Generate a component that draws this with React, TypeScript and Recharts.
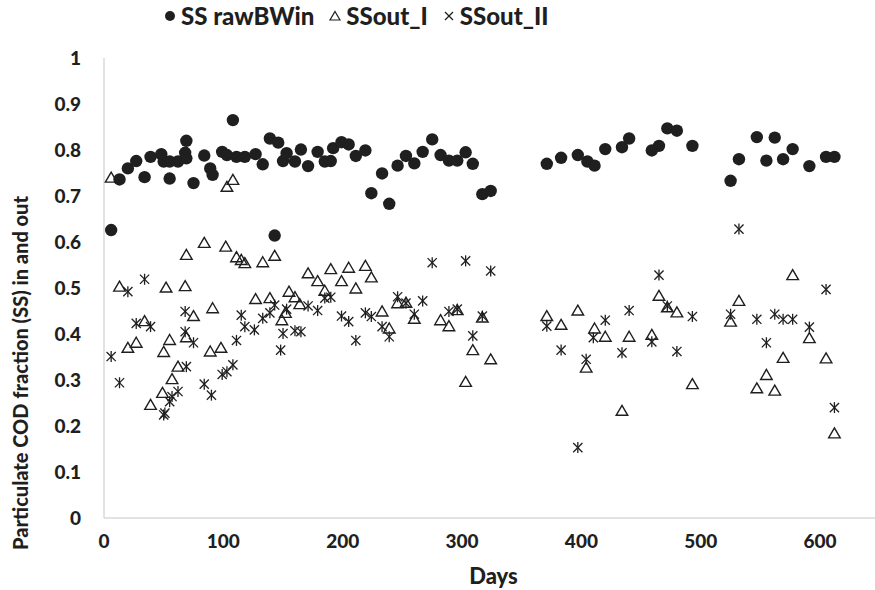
import { Legend, Scatter, ScatterChart, XAxis, YAxis } from "recharts";

const xTicks = [0, 100, 200, 300, 400, 500, 600];
const yTicks = [0, 0.1, 0.2, 0.3, 0.4, 0.5, 0.6, 0.7, 0.8, 0.9, 1];

// [day, fraction]
const ssRawBWin: [number, number][] = [
  [6, 0.626], [13, 0.736], [20, 0.76], [27, 0.776], [34, 0.741], [39, 0.785], [48, 0.791], [50, 0.775],
  [55, 0.775], [55, 0.738], [62, 0.775], [69, 0.82], [68, 0.794], [69, 0.782], [75, 0.728], [84, 0.788],
  [89, 0.76], [91, 0.746], [99, 0.796], [103, 0.789], [108, 0.865], [111, 0.785], [118, 0.785], [127, 0.791],
  [133, 0.769], [139, 0.825], [143, 0.614], [146, 0.816], [150, 0.776], [153, 0.793], [160, 0.775], [165, 0.801],
  [171, 0.765], [179, 0.796], [185, 0.775], [190, 0.776], [192, 0.804], [199, 0.817], [205, 0.812], [211, 0.787],
  [219, 0.799], [224, 0.706], [233, 0.749], [239, 0.683], [246, 0.766], [253, 0.787], [260, 0.771], [267, 0.796],
  [275, 0.823], [282, 0.789], [289, 0.777], [296, 0.777], [303, 0.795], [309, 0.77], [317, 0.704], [324, 0.711],
  [371, 0.77], [383, 0.783], [397, 0.789], [405, 0.775], [411, 0.766], [420, 0.802], [434, 0.806], [440, 0.825],
  [459, 0.799], [465, 0.809], [472, 0.847], [480, 0.842], [493, 0.809], [525, 0.733], [532, 0.78], [547, 0.828],
  [555, 0.777], [562, 0.827], [569, 0.78], [577, 0.802], [591, 0.765], [605, 0.785], [612, 0.785],
];

const ssOutI: [number, number][] = [
  [6, 0.74], [13, 0.503], [20, 0.37], [27, 0.381], [34, 0.428], [39, 0.246], [49, 0.272], [50, 0.361],
  [52, 0.501], [55, 0.387], [57, 0.302], [62, 0.329], [69, 0.572], [68, 0.504], [69, 0.393], [75, 0.439],
  [84, 0.598], [89, 0.362], [91, 0.456], [98, 0.37], [102, 0.59], [103, 0.72], [108, 0.735], [111, 0.567],
  [115, 0.561], [118, 0.554], [127, 0.476], [133, 0.556], [139, 0.478], [143, 0.57], [149, 0.43], [152, 0.446],
  [155, 0.492], [160, 0.48], [164, 0.465], [171, 0.532], [179, 0.515], [185, 0.494], [190, 0.541], [199, 0.515],
  [205, 0.544], [211, 0.499], [219, 0.548], [224, 0.523], [233, 0.449], [239, 0.412], [246, 0.467], [253, 0.468],
  [260, 0.433], [282, 0.43], [289, 0.417], [296, 0.452], [303, 0.296], [309, 0.365], [317, 0.436], [324, 0.345],
  [371, 0.439], [383, 0.42], [397, 0.451], [404, 0.327], [411, 0.412], [420, 0.394], [434, 0.233], [440, 0.394],
  [459, 0.398], [465, 0.483], [472, 0.458], [480, 0.447], [493, 0.291], [525, 0.427], [532, 0.472], [547, 0.282],
  [555, 0.311], [562, 0.277], [569, 0.348], [577, 0.528], [591, 0.391], [605, 0.347], [612, 0.184],
];

const ssOutII: [number, number][] = [
  [6, 0.351], [13, 0.294], [20, 0.492], [27, 0.423], [34, 0.519], [39, 0.416], [50, 0.224], [51, 0.228],
  [55, 0.253], [57, 0.264], [62, 0.275], [68, 0.449], [68, 0.405], [69, 0.329], [75, 0.381], [84, 0.291],
  [90, 0.267], [99, 0.312], [103, 0.318], [108, 0.333], [111, 0.386], [115, 0.441], [118, 0.416], [126, 0.409],
  [133, 0.434], [139, 0.446], [143, 0.463], [148, 0.365], [150, 0.401], [153, 0.454], [160, 0.407], [165, 0.405],
  [171, 0.461], [179, 0.451], [185, 0.478], [190, 0.48], [199, 0.439], [205, 0.427], [211, 0.386], [219, 0.446],
  [224, 0.438], [233, 0.416], [239, 0.394], [246, 0.481], [253, 0.467], [260, 0.443], [267, 0.472], [275, 0.555],
  [289, 0.449], [296, 0.454], [303, 0.559], [309, 0.396], [317, 0.439], [324, 0.537], [371, 0.417], [383, 0.365],
  [397, 0.153], [404, 0.345], [410, 0.392], [420, 0.43], [434, 0.359], [440, 0.451], [459, 0.383], [465, 0.528],
  [472, 0.461], [480, 0.362], [493, 0.438], [525, 0.443], [532, 0.628], [547, 0.432], [555, 0.381], [562, 0.443],
  [569, 0.432], [577, 0.432], [591, 0.415], [605, 0.497], [612, 0.24],
];

const toPoints = (rows: [number, number][]) => rows.map(([day, value]) => ({ day, value }));

const ink = "#1f1f1f";
const axisGray = "#d9d9d9";
const font = "Lato, 'Open Sans', sans-serif";

function Dot({ cx, cy }: any) {
  return <circle cx={cx} cy={cy} r={6.2} fill={ink} />;
}

function Triangle({ cx, cy }: any) {
  return (
    <path
      d={`M${cx},${cy - 5.5}L${cx + 5.8},${cy + 4.5}L${cx - 5.8},${cy + 4.5}Z`}
      fill="none"
      stroke={ink}
      strokeWidth={1.4}
    />
  );
}

function Star({ cx, cy }: any) {
  const r = 5.5;
  const d = 4.6;
  return (
    <g stroke={ink} strokeWidth={1.3}>
      <line x1={cx} y1={cy - r} x2={cx} y2={cy + r} />
      <line x1={cx - d} y1={cy - d} x2={cx + d} y2={cy + d} />
      <line x1={cx - d} y1={cy + d} x2={cx + d} y2={cy - d} />
    </g>
  );
}

const legendIcons: Record<string, (cx: number, cy: number) => JSX.Element> = {
  "SS rawBWin": (cx, cy) => <circle cx={cx} cy={cy} r={5} fill={ink} />,
  SSout_I: (cx, cy) => (
    <path d={`M${cx},${cy - 4.5}L${cx + 5},${cy + 4}L${cx - 5},${cy + 4}Z`} fill="none" stroke={ink} strokeWidth={1.2} />
  ),
  SSout_II: (cx, cy) => (
    <g stroke={ink} strokeWidth={1.2}>
      <line x1={cx - 4} y1={cy - 4} x2={cx + 4} y2={cy + 4} />
      <line x1={cx - 4} y1={cy + 4} x2={cx + 4} y2={cy - 4} />
    </g>
  ),
};

function LegendRow({ payload }: any) {
  return (
    <div style={{ display: "flex", alignItems: "center", fontFamily: font, fontWeight: 900, fontSize: 24, color: ink }}>
      {(payload || []).map((entry: any) => (
        <div key={entry.value} style={{ display: "flex", alignItems: "center", marginRight: 14 }}>
          <svg width={14} height={14} style={{ marginRight: 4 }}>
            {legendIcons[entry.value]?.(7, 7)}
          </svg>
          <span>{entry.value}</span>
        </div>
      ))}
    </div>
  );
}

function YTitle({ viewBox }: any) {
  const cx = viewBox.x + 20;
  const cy = viewBox.y + viewBox.height / 2 + 85;
  return (
    <text
      x={cx}
      y={cy}
      transform={`rotate(-90 ${cx} ${cy})`}
      textAnchor="middle"
      dominantBaseline="central"
      fontFamily={font}
      fontWeight={900}
      fontSize={20}
      fill={ink}
    >
      Particulate COD fraction (SS) in and out
    </text>
  );
}

function XTitle({ viewBox }: any) {
  return (
    <text
      x={viewBox.x + viewBox.width / 2 + 4}
      y={viewBox.y + 66}
      textAnchor="middle"
      fontFamily={font}
      fontWeight={900}
      fontSize={22}
      fill={ink}
    >
      Days
    </text>
  );
}

const tickStyle = { fontFamily: font, fontWeight: 900, fontSize: 19, fill: ink };

export default function App() {
  return (
    <div style={{ position: "absolute", left: 0, top: 0, background: "#fff" }}>
      <ScatterChart width={875} height={590} margin={{ top: 58, right: 0, bottom: 0, left: 0 }}>
        <XAxis
          type="number"
          dataKey="day"
          domain={[0, 646]}
          ticks={xTicks}
          height={72}
          tickLine={false}
          tickMargin={11}
          stroke={axisGray}
          strokeWidth={1.5}
          tick={tickStyle}
          label={{ content: (p: any) => <XTitle {...p} /> }}
        />
        <YAxis
          type="number"
          dataKey="value"
          domain={[0, 1]}
          ticks={yTicks}
          width={104}
          tickLine={false}
          tickMargin={17}
          stroke={axisGray}
          strokeWidth={1.5}
          tick={tickStyle}
          label={{ content: (p: any) => <YTitle {...p} /> }}
        />
        <Legend
          layout="horizontal"
          verticalAlign="middle"
          align="center"
          wrapperStyle={{ left: 163, top: 1, width: 430, height: 30 }}
          content={(p: any) => <LegendRow {...p} />}
        />
        <Scatter name="SS rawBWin" data={toPoints(ssRawBWin)} fill={ink} shape={Dot} isAnimationActive={false} />
        <Scatter name="SSout_I" data={toPoints(ssOutI)} fill="none" shape={Triangle} isAnimationActive={false} />
        <Scatter name="SSout_II" data={toPoints(ssOutII)} fill={ink} shape={Star} isAnimationActive={false} />
      </ScatterChart>
    </div>
  );
}
